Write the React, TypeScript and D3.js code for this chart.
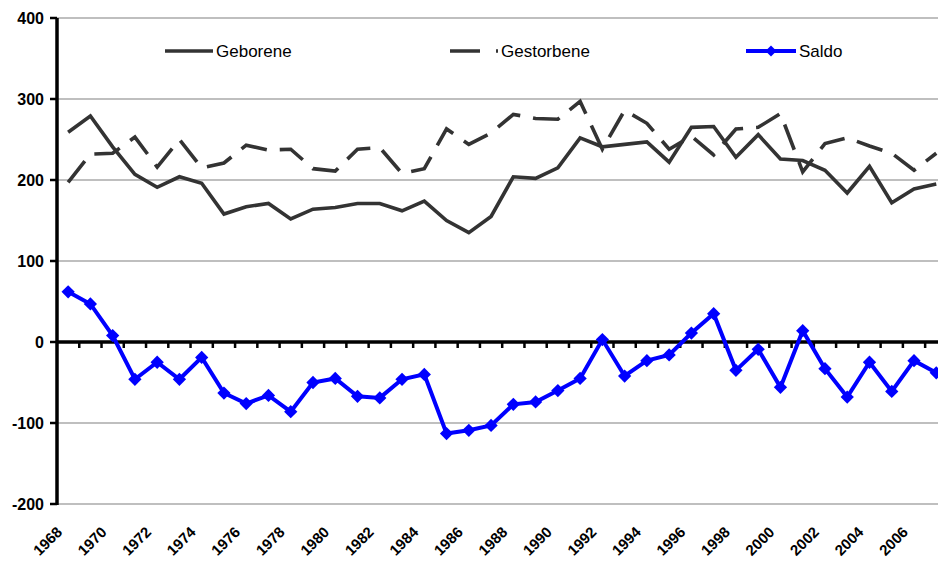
import React, { useEffect } from "react";
import * as d3 from "d3";

const years = [1968,1969,1970,1971,1972,1973,1974,1975,1976,1977,1978,1979,1980,1981,1982,1983,1984,1985,1986,1987,1988,1989,1990,1991,1992,1993,1994,1995,1996,1997,1998,1999,2000,2001,2002,2003,2004,2005,2006,2007];
const geborene = [259,279,241,207,191,204,196,158,167,171,152,164,166,171,171,162,174,150,135,155,204,202,215,252,241,244,247,222,265,266,228,256,226,224,212,184,217,172,189,195];
const gestorbene = [197,232,233,253,216,250,215,221,243,237,238,214,211,238,240,208,214,263,244,258,281,276,275,297,238,286,270,238,254,231,263,265,282,210,245,252,242,233,212,233];
const saldo = [62,47,8,-46,-25,-46,-19,-63,-76,-66,-86,-50,-45,-67,-69,-46,-40,-113,-109,-103,-77,-74,-60,-45,3,-42,-23,-16,11,35,-35,-9,-56,14,-33,-68,-25,-61,-23,-38];
const yTicks = [-200,-100,0,100,200,300,400];
const seriesNames = ["Geborene", "Gestorbene", "Saldo"];

const W = 938, H = 561;
const font = "'Liberation Sans', Arial, Helvetica, sans-serif";

export default function App() {
  useEffect(() => { document.body.style.margin = "0"; }, []);
  const x = d3.scaleBand<number>().domain(years).range([57, 57 + 40 * 22.26]).padding(0);
  const cx = (yr: number) => (x(yr) as number) + x.bandwidth() / 2;
  const y = d3.scaleLinear().domain([-200, 400]).range([504, 18]);
  const line = d3.line<number>().x((_, i) => cx(years[i])).y(d => y(d));
  const diamond = d3.symbol().type(d3.symbolSquare).size(88)() as string;
  const dark = "#333333";
  const blue = "#0000ff";

  return (
    <svg width={W} height={H} style={{ display: "block", background: "#fff" }} fontFamily={font}>
      {yTicks.filter(t => t !== 0).map(t => (
        <line key={t} x1={57} x2={W} y1={y(t)} y2={y(t)} stroke="#808080" strokeWidth={1.2} />
      ))}
      <line x1={57} x2={57} y1={y(400)} y2={y(-200) + 1} stroke="#000" strokeWidth={3.5} />
      {yTicks.map(t => (
        <g key={t}>
          <line x1={50} x2={57} y1={y(t)} y2={y(t)} stroke="#000" strokeWidth={2.5} />
          <text x={44} y={y(t)} dy="0.36em" textAnchor="end" fontSize={16} fontWeight="bold" fill="#000">{t}</text>
        </g>
      ))}
      <line x1={57} x2={W} y1={y(0)} y2={y(0)} stroke="#000" strokeWidth={3.5} />
      {years.map((yr, i) => i > 0 ? (
        <line key={yr} x1={x(yr) as number} x2={x(yr) as number} y1={y(0)} y2={y(0) + 6} stroke="#000" strokeWidth={2.5} />
      ) : null)}
      {years.filter((_, i) => i % 2 === 0).map(yr => (
        <text key={yr} transform={`translate(${cx(yr) - 5},${533}) rotate(-45)`} textAnchor="end"
          fontSize={15} fontWeight="bold" fill="#000">{yr}</text>
      ))}
      <path d={line(geborene) as string} fill="none" stroke={dark} strokeWidth={3.6} />
      <path d={line(gestorbene) as string} fill="none" stroke={dark} strokeWidth={3.6} strokeDasharray="27,13" />
      <path d={line(saldo) as string} fill="none" stroke={blue} strokeWidth={4} />
      {saldo.map((v, i) => (
        <path key={i} d={diamond} transform={`translate(${cx(years[i])},${y(v)}) rotate(45)`} fill={blue} />
      ))}
      <line x1={165} x2={213} y1={51} y2={51} stroke={dark} strokeWidth={3.6} />
      <text x={216} y={57} fontSize={17} fill="#000">{seriesNames[0]}</text>
      <line x1={450} x2={498} y1={51} y2={51} stroke={dark} strokeWidth={3.6} strokeDasharray="30,16" />
      <text x={501} y={57} fontSize={17} fill="#000">{seriesNames[1]}</text>
      <line x1={746} x2={796} y1={51} y2={51} stroke={blue} strokeWidth={4} />
      <path d={d3.symbol().type(d3.symbolSquare).size(60)() as string} transform="translate(771,51) rotate(45)" fill={blue} />
      <text x={799} y={57} fontSize={17} fill="#000">{seriesNames[2]}</text>
    </svg>
  );
}
